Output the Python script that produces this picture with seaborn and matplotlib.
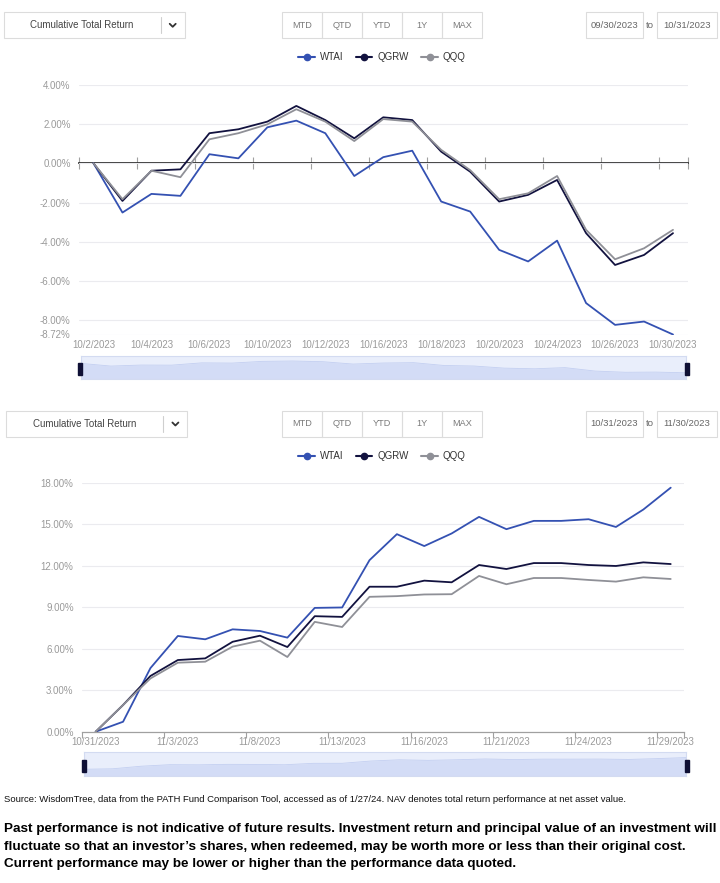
import numpy as np
import pandas as pd
import seaborn as sns
import matplotlib.pyplot as plt
from matplotlib import font_manager
from matplotlib.lines import Line2D
from matplotlib.patches import Rectangle

# October panel (cumulative total return, %)
oct_dates = ['10/2/2023', '10/3/2023', '10/4/2023', '10/5/2023', '10/6/2023',
             '10/9/2023', '10/10/2023', '10/11/2023', '10/12/2023', '10/13/2023',
             '10/16/2023', '10/17/2023', '10/18/2023', '10/19/2023', '10/20/2023',
             '10/23/2023', '10/24/2023', '10/25/2023', '10/26/2023', '10/27/2023',
             '10/30/2023']
oct_wtai = [0, -2.51, -1.56, -1.66, 0.46, 0.25, 1.83, 2.17, 1.53, -0.65, 0.31,
            0.64, -1.95, -2.46, -4.41, -5.00, -3.94, -7.12, -8.23, -8.06, -8.72]
oct_qgrw = [0, -1.92, -0.38, -0.31, 1.53, 1.73, 2.12, 2.92, 2.20, 1.27, 2.34,
            2.20, 0.59, -0.43, -1.95, -1.61, -0.85, -3.56, -5.18, -4.67, -3.56]
oct_qqq = [0, -1.83, -0.38, -0.71, 1.22, 1.53, 1.98, 2.75, 2.12, 1.13, 2.25,
           2.12, 0.68, -0.35, -1.83, -1.53, -0.65, -3.39, -4.89, -4.33, -3.39]
oct_yticks = [4, 2, 0, -2, -4, -6, -8, -8.72]

# November panel
nov_dates = ['10/31/2023', '11/1/2023', '11/2/2023', '11/3/2023', '11/6/2023',
             '11/7/2023', '11/8/2023', '11/9/2023', '11/10/2023', '11/13/2023',
             '11/14/2023', '11/15/2023', '11/16/2023', '11/17/2023', '11/20/2023',
             '11/21/2023', '11/22/2023', '11/23/2023', '11/24/2023', '11/27/2023',
             '11/28/2023', '11/29/2023']
nov_wtai = [0, 0.72, 4.60, 6.92, 6.68, 7.40, 7.28, 6.80, 8.95, 8.98, 12.40,
            14.28, 13.42, 14.33, 15.53, 14.64, 15.24, 15.24, 15.36, 14.80, 16.06, 17.64]
nov_qgrw = [0, 1.93, 4.03, 5.18, 5.30, 6.50, 6.94, 6.12, 8.35, 8.30, 10.48,
            10.48, 10.92, 10.80, 12.05, 11.76, 12.19, 12.19, 12.05, 11.98, 12.24, 12.12]
nov_qqq = [0, 1.93, 3.85, 4.99, 5.06, 6.15, 6.58, 5.40, 7.94, 7.57, 9.75,
           9.80, 9.92, 9.94, 11.26, 10.66, 11.11, 11.11, 10.97, 10.85, 11.16, 11.04]
nov_yticks = [0, 3, 6, 9, 12, 15, 18]

funds = ['WTAI', 'QGRW', 'QQQ']
fund_colors = {'WTAI': '#3451b2', 'QGRW': '#12123f', 'QQQ': '#8f9097'}

source_text = ('Source: WisdomTree, data from the PATH Fund Comparison Tool, accessed as of '
               '1/27/24. NAV denotes total return performance at net asset value.')
disclaimer = ['Past performance is not indicative of future results. Investment return and '
              'principal value of an investment will',
              'fluctuate so that an investor\u2019s shares, when redeemed, may be worth more '
              'or less than their original cost.',
              'Current performance may be lower or higher than the performance data quoted.']

sns.set_theme(style='white')
installed = {f.name for f in font_manager.fontManager.ttflist}
narrow = 'Liberation Sans Narrow' if 'Liberation Sans Narrow' in installed else 'Liberation Sans'
plt.rcParams['font.family'] = [narrow, 'DejaVu Sans']

W, H = 720, 883
fig = plt.figure(figsize=(W / 100, H / 100), dpi=100)


def box(x0, y0, x1, y1):
    # pixel box -> figure fractions
    return [x0 / W, 1 - y1 / H, (x1 - x0) / W, (y1 - y0) / H]


def long_df(dates, series):
    rows = []
    for name, vals in series.items():
        for i, (d, v) in enumerate(zip(dates, vals)):
            rows.append([i, d, name, v])
    return pd.DataFrame(rows, columns=['idx', 'date', 'fund', 'ret'])


def draw_panel(dates, series, yticks, label_step, plot_px, slider_px):
    n = len(dates)
    ax = fig.add_axes(box(*plot_px))
    df = long_df(dates, series)
    sns.lineplot(data=df, x='idx', y='ret', hue='fund', hue_order=funds,
                 palette=fund_colors, ax=ax, legend=False, linewidth=1.3, sort=False)
    ymin, ymax = min(yticks), max(yticks)
    ax.set_xlim(-0.5, n - 0.5)
    ax.set_ylim(ymin, ymax)
    ax.set_yticks(yticks, labels=[f'{v:.2f}%' for v in yticks])
    ax.set_xticks(range(0, n, label_step), labels=[dates[i] for i in range(0, n, label_step)])
    ax.grid(axis='y', color='#ebebef', lw=0.8)
    ax.grid(axis='x', visible=False)
    for s in ax.spines.values():
        s.set_visible(False)
    ax.tick_params(axis='x', length=0, pad=4, labelsize=7, labelcolor='#9a9a9a')
    ax.tick_params(axis='y', length=0, pad=6, labelsize=7, labelcolor='#9a9a9a')
    ax.set_xlabel('')
    ax.set_ylabel('')

    # category axis drawn at the zero line, ticks on band boundaries
    sec = ax.secondary_xaxis((0 - ymin) / (ymax - ymin))
    tick_pos = list(np.arange(-0.5, n - 0.5, label_step)) + [n - 0.5]
    sec.set_xticks(tick_pos, labels=[''] * len(tick_pos))
    sec.tick_params(bottom=True, length=4, width=0.8, color='#a0a0a0', direction='out')
    sec.spines['bottom'].set_color('#a0a0a0')
    sec.spines['bottom'].set_linewidth(0.9)

    # data zoom slider with the first series as shadow
    sax = fig.add_axes(box(*slider_px))
    first = series['WTAI']
    lo = min(first) - 0.55 * (max(first) - min(first))
    hi = max(first) + 0.45 * (max(first) - min(first))
    sax.fill_between(range(n), first, lo, color='#d3dcf6', lw=0)
    sax.plot(range(n), first, color='#c3cff1', lw=0.6)
    sax.set_xlim(0, n - 1)
    sax.set_ylim(lo, hi)
    sax.set_facecolor('#e9eefb')
    sax.set_xticks([])
    sax.set_yticks([])
    for s in sax.spines.values():
        s.set_color('#d3dbf1')
        s.set_linewidth(0.8)
    for xa in (-0.004, 0.998):
        sax.add_patch(Rectangle((xa, 0.17), 0.0066, 0.52, transform=sax.transAxes,
                                color='#0f1035', clip_on=False, zorder=5))
    return ax


# overlay in pixel coordinates for the page widgets
ov = fig.add_axes([0, 0, 1, 1])
ov.set_xlim(0, W)
ov.set_ylim(H, 0)
ov.axis('off')
ov.set_zorder(10)
ov.patch.set_alpha(0)


def rect(x0, y0, x1, y1):
    ov.add_patch(Rectangle((x0, y0), x1 - x0, y1 - y0, fill=False, ec='#dcdcdc', lw=0.8))


def header(y0, dd_x, start, end):
    y1 = y0 + 26
    yc = (y0 + y1) / 2
    rect(dd_x, y0, dd_x + 181, y1)
    ov.text(dd_x + 78, yc, 'Cumulative Total Return', ha='center', va='center',
            fontsize=7, color='#444444')
    ov.plot([dd_x + 157, dd_x + 157], [y0 + 5, y1 - 5], color='#cfcfcf', lw=0.8)
    ov.plot([dd_x + 166, dd_x + 169, dd_x + 172], [yc - 1.5, yc + 1.5, yc - 1.5],
            color='#333333', lw=1.3)
    for k, lab in enumerate(['MTD', 'QTD', 'YTD', '1Y', 'MAX']):
        bx = 282 + 40 * k
        rect(bx, y0, bx + 40, y1)
        ov.text(bx + 20, yc, lab, ha='center', va='center', fontsize=6.6, color='#7a7a7a')
    rect(585.7, y0, 643.3, y1)
    ov.text(614.5, yc, start, ha='center', va='center', fontsize=6.8, color='#666666')
    ov.text(650, yc, 'to', ha='center', va='center', fontsize=6.8, color='#666666')
    rect(656.7, y0, 716.7, y1)
    ov.text(686.7, yc, end, ha='center', va='center', fontsize=6.8, color='#666666')


def legend(y):
    handles = [Line2D([], [], color=fund_colors[f], lw=1.5, marker='o', markersize=4.5)
               for f in funds]
    fig.legend(handles, funds, loc='center', bbox_to_anchor=(382 / W, 1 - y / H), ncol=3,
               frameon=False, fontsize=7, handlelength=1.7, handletextpad=0.5,
               columnspacing=1.3, labelcolor='#333333')


header(12.3, 3.7, '09/30/2023', '10/31/2023')
legend(57.3)
draw_panel(oct_dates, {'WTAI': oct_wtai, 'QGRW': oct_qgrw, 'QQQ': oct_qqq}, oct_yticks, 2,
           (79, 84.7, 687.5, 334.5), (80.7, 355.7, 686, 379.3))

header(411, 6.4, '10/31/2023', '11/30/2023')
legend(456.3)
draw_panel(nov_dates, {'WTAI': nov_wtai, 'QGRW': nov_qgrw, 'QQQ': nov_qqq}, nov_yticks, 3,
           (82, 482.7, 684.4, 731.7), (84, 752.3, 686, 775.7))

# footer text, sized to span the same width as the reference
renderer = fig.canvas.get_renderer()


def fitted(x, y, s, width, **kw):
    t = ov.text(x, y, s, ha='left', va='center', fontsize=10, **kw)
    w = t.get_window_extent(renderer).width
    t.set_fontsize(10 * width / w)
    return t.get_fontsize()


fitted(4, 800, source_text, 624, color='#111111')
fs = fitted(4, 829, disclaimer[0], 709, color='#000000', fontweight='bold')
for y, line in zip([847, 864], disclaimer[1:]):
    ov.text(4, y, line, ha='left', va='center', fontsize=fs, fontweight='bold', color='#000000')

fig.savefig('out.png', dpi=100)
